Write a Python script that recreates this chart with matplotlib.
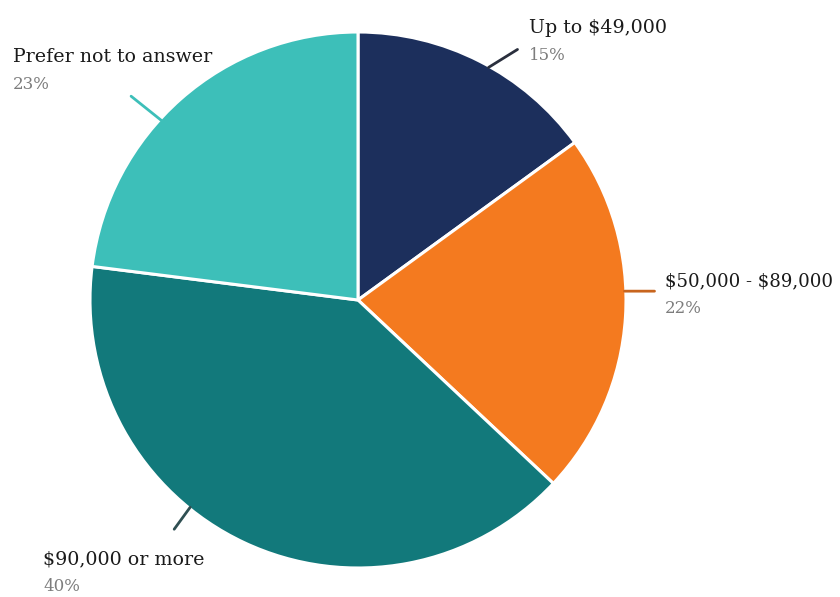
import numpy as np
import matplotlib
matplotlib.use("Agg")
import matplotlib.pyplot as plt

# Household income distribution
categories = ["Up to $49,000", "$50,000 - $89,000", "$90,000 or more", "Prefer not to answer"]
shares = [15, 22, 40, 23]
colors = ["#1c2f5c", "#f47a1f", "#12797b", "#3dbfb9"]
leader_colors = ["#2a2f3d", "#c8651e", "#2f4f52", "#3dbfb9"]

W, H = 840, 597
fig = plt.figure(figsize=(W / 100, H / 100), dpi=100)
fig.patch.set_facecolor("white")

# pie axes: centre (358, 300) px, radius 268 px
cx, cy, r = 358, 300, 268
ax = fig.add_axes([(cx - r) / W, 1 - (cy + r) / H, 2 * r / W, 2 * r / H])
ax.pie(shares, colors=colors, startangle=90, counterclock=False,
       radius=1.0, wedgeprops=dict(edgecolor="white", linewidth=2.2))
ax.set_xlim(-1, 1)
ax.set_ylim(-1, 1)
ax.set_aspect("equal")
ax.axis("off")

# leader lines: angle on the rim (deg) and offset of the outer end (px)
leader_angles = [60.7, 1.9, 231.0, 137.6]
leader_offsets = [(29, 18), (30, 0), (-16, -22), (-30, 24)]
for ang, (dx, dy), lc in zip(leader_angles, leader_offsets, leader_colors):
    t = np.deg2rad(ang)
    p = (0.995 * np.cos(t), 0.995 * np.sin(t))
    ax.annotate("", xy=p, xytext=(dx, dy), textcoords="offset pixels",
                xycoords="data",
                arrowprops=dict(arrowstyle="-", color=lc, lw=2.0,
                                shrinkA=0, shrinkB=0))

# label text positions (px, baseline of name line) and name font sizes
label_pos = [(529, 33), (665, 286), (43, 564), (13, 62)]
name_sizes = [13.7, 13.1, 13.7, 13.7]
serif = ["DejaVu Serif"]
for name, val, (x, y), fs in zip(categories, shares, label_pos, name_sizes):
    fig.text(x / W, 1 - y / H, name, family=serif, fontsize=fs,
             color="#1a1a1a", ha="left", va="baseline", parse_math=False)
    fig.text(x / W, 1 - (y + 27) / H, f"{val}%", family=serif, fontsize=12,
             color="#7d7d7d", ha="left", va="baseline", parse_math=False)

fig.savefig("out.png", dpi=100, facecolor="white")
